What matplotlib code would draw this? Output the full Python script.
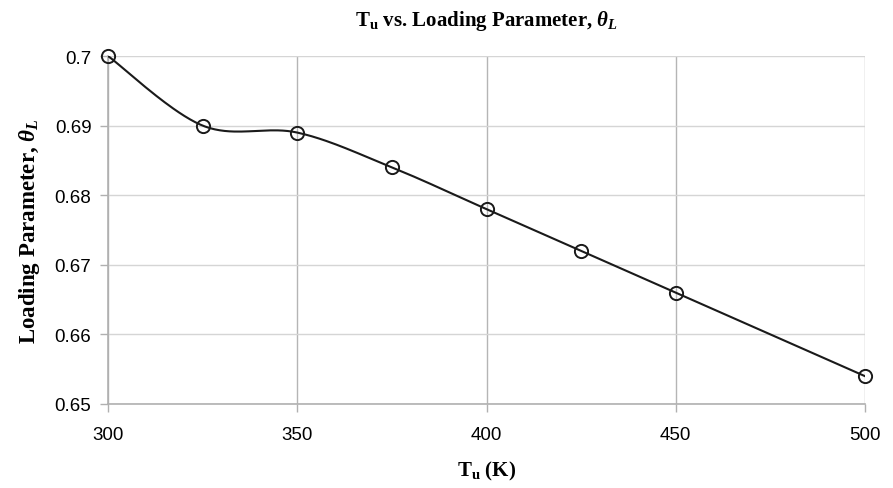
import numpy as np
import matplotlib
matplotlib.use("Agg")
import matplotlib.pyplot as plt

plt.rcParams['mathtext.fontset'] = 'custom'
plt.rcParams['mathtext.rm'] = 'Liberation Serif:bold'
plt.rcParams['mathtext.bf'] = 'Liberation Serif:bold'
plt.rcParams['mathtext.it'] = 'Liberation Serif:bold:italic'

tu = [300, 325, 350, 375, 400, 425, 450, 500]
theta = [0.700, 0.690, 0.689, 0.684, 0.678, 0.672, 0.666, 0.654]
xticks = [300, 350, 400, 450, 500]
yticks = [0.65, 0.66, 0.67, 0.68, 0.69, 0.70]
ytick_labels = ["0.65", "0.66", "0.67", "0.68", "0.69", "0.7"]


def smooth(xs, ys, n=40):
    # Catmull-Rom style smoothing (like spreadsheet "smoothed line")
    P = np.column_stack([xs, ys]).astype(float)
    P = np.vstack([P[0], P, P[-1]])
    out = []
    t = np.linspace(0, 1, n)[:, None]
    for i in range(1, len(P) - 2):
        p0, p1, p2, p3 = P[i - 1], P[i], P[i + 1], P[i + 2]
        c1 = p1 + (p2 - p0) / 6.0
        c2 = p2 - (p3 - p1) / 6.0
        seg = ((1 - t) ** 3) * p1 + 3 * ((1 - t) ** 2) * t * c1 + 3 * (1 - t) * t ** 2 * c2 + t ** 3 * p2
        out.append(seg if i == 1 else seg[1:])
    S = np.vstack(out)
    return S[:, 0], S[:, 1]


fig = plt.figure(figsize=(8.93, 4.89), dpi=100)
ax = fig.add_axes([0.121, 0.1718, 0.8476, 0.7116])

sx, sy = smooth(tu, theta)
ax.plot(sx, sy, color='#1a1a1a', lw=1.5, zorder=3)
ax.plot(tu, theta, ls='none', marker='o', ms=9.5, mfc='none', mec='#1a1a1a', mew=1.4, zorder=4, clip_on=False)

ax.set_xlim(300, 500)
ax.set_ylim(0.65, 0.70)
ax.set_xticks(xticks)
ax.set_xticklabels([str(v) for v in xticks], fontsize=13.5, family='Liberation Sans')
ax.set_yticks(yticks)
ax.set_yticklabels(ytick_labels, fontsize=13.5, family='Liberation Sans')
ax.tick_params(axis='both', length=6, color='#b0b0b0', width=1, pad=6)
ax.tick_params(axis='x', pad=10)

ax.grid(True, axis='x', color='#b5b5b5', lw=1)
ax.grid(True, axis='y', color='#d5d5d5', lw=1)
for s in ['top', 'right']:
    ax.spines[s].set_visible(False)
for s in ['left', 'bottom']:
    ax.spines[s].set_color('#b0b0b0')
    ax.spines[s].set_linewidth(1.2)

ax.set_title(r"$\mathbf{T_u}$ vs. Loading Parameter, $\theta_L$", fontsize=15,
             family='Liberation Serif', fontweight='bold', pad=22)
ax.set_xlabel(r"$\mathbf{T_u}$ (K)", fontsize=15, family='Liberation Serif', fontweight='bold', labelpad=11)
ax.set_ylabel(r"Loading Parameter, $\theta_L$", fontsize=16.5, family='Liberation Serif', fontweight='bold', labelpad=9)

fig.savefig("out.png", dpi=100)
